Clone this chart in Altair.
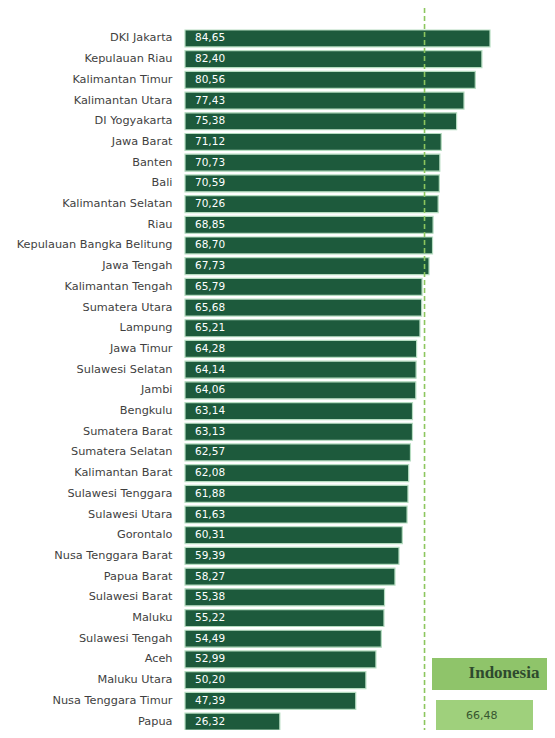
import altair as alt
import pandas as pd

provinces = [
    "DKI Jakarta", "Kepulauan Riau", "Kalimantan Timur", "Kalimantan Utara", "DI Yogyakarta",
    "Jawa Barat", "Banten", "Bali", "Kalimantan Selatan", "Riau",
    "Kepulauan Bangka Belitung", "Jawa Tengah", "Kalimantan Tengah", "Sumatera Utara", "Lampung",
    "Jawa Timur", "Sulawesi Selatan", "Jambi", "Bengkulu", "Sumatera Barat",
    "Sumatera Selatan", "Kalimantan Barat", "Sulawesi Tenggara", "Sulawesi Utara", "Gorontalo",
    "Nusa Tenggara Barat", "Papua Barat", "Sulawesi Barat", "Maluku", "Sulawesi Tengah",
    "Aceh", "Maluku Utara", "Nusa Tenggara Timur", "Papua",
]
values = [
    84.65, 82.40, 80.56, 77.43, 75.38,
    71.12, 70.73, 70.59, 70.26, 68.85,
    68.70, 67.73, 65.79, 65.68, 65.21,
    64.28, 64.14, 64.06, 63.14, 63.13,
    62.57, 62.08, 61.88, 61.63, 60.31,
    59.39, 58.27, 55.38, 55.22, 54.49,
    52.99, 50.20, 47.39, 26.32,
]
national_name = "Indonesia"
national_value = 66.48

df = pd.DataFrame({
    "prov": provinces,
    "val": values,
    "lbl": [f"{v:.2f}".replace(".", ",") for v in values],
})
nat = pd.DataFrame({"name": [national_name], "val": [national_value],
                    "lbl": [f"{national_value:.2f}".replace(".", ",")]})

FONT = "DejaVu Sans"
xscale = alt.Scale(domain=[0, 100.47], nice=False, zero=True)
yscale = alt.Scale(paddingInner=0.18, paddingOuter=0)

base = alt.Chart(df)

bars = base.mark_bar(color="#1d5a3c", stroke="#b5dcc0", strokeWidth=1.2).encode(
    x=alt.X("val:Q", scale=xscale, axis=None),
    y=alt.Y("prov:N", sort=provinces, scale=yscale, title=None,
            axis=alt.Axis(domain=False, ticks=False, grid=False, labelPadding=13, labelFont=FONT,
                          labelFontSize=11.3, labelColor="#3f3f3f", labelLimit=220)),
)

texts = base.mark_text(align="left", baseline="middle", color="white", font=FONT,
                       fontSize=10.5).encode(
    x=alt.value(10),
    y=alt.Y("prov:N", sort=provinces, scale=yscale),
    text="lbl:N",
)

rule = alt.Chart(nat).mark_rule(color="#8cc65e", strokeDash=[5, 3], strokeWidth=1.6).encode(
    x=alt.X("val:Q", scale=xscale, axis=None),
    y=alt.value(-22),
    y2=alt.value(700),
)

box1 = alt.Chart(nat).mark_rect(color="#8fc46a").encode(
    x=alt.value(247), x2=alt.value(362), y=alt.value(628), y2=alt.value(660),
)
box2 = alt.Chart(nat).mark_rect(color="#9fd07c").encode(
    x=alt.value(251), x2=alt.value(348), y=alt.value(670), y2=alt.value(700),
)
t1 = alt.Chart(nat).mark_text(font="Liberation Serif", fontWeight="bold", fontSize=17,
                              color="#2e4a2e", align="center", baseline="middle").encode(
    x=alt.value(319), y=alt.value(643), text="name:N",
)
t2 = alt.Chart(nat).mark_text(font=FONT, fontSize=11, color="#36562f",
                              align="left", baseline="middle").encode(
    x=alt.value(281), y=alt.value(686), text="lbl:N",
)

chart = alt.layer(bars, texts, rule, box1, box2, t1, t2).properties(
    width=362, height=700,
    background="white",
    padding={"left": 177, "top": 22, "right": 0, "bottom": 0},
    autosize=alt.AutoSizeParams(type="none"),
).configure_view(stroke=None, strokeWidth=0).configure_axis(
    grid=False, domain=False
)

chart.save("out.html", embed_options={"renderer": "svg", "actions": False})
